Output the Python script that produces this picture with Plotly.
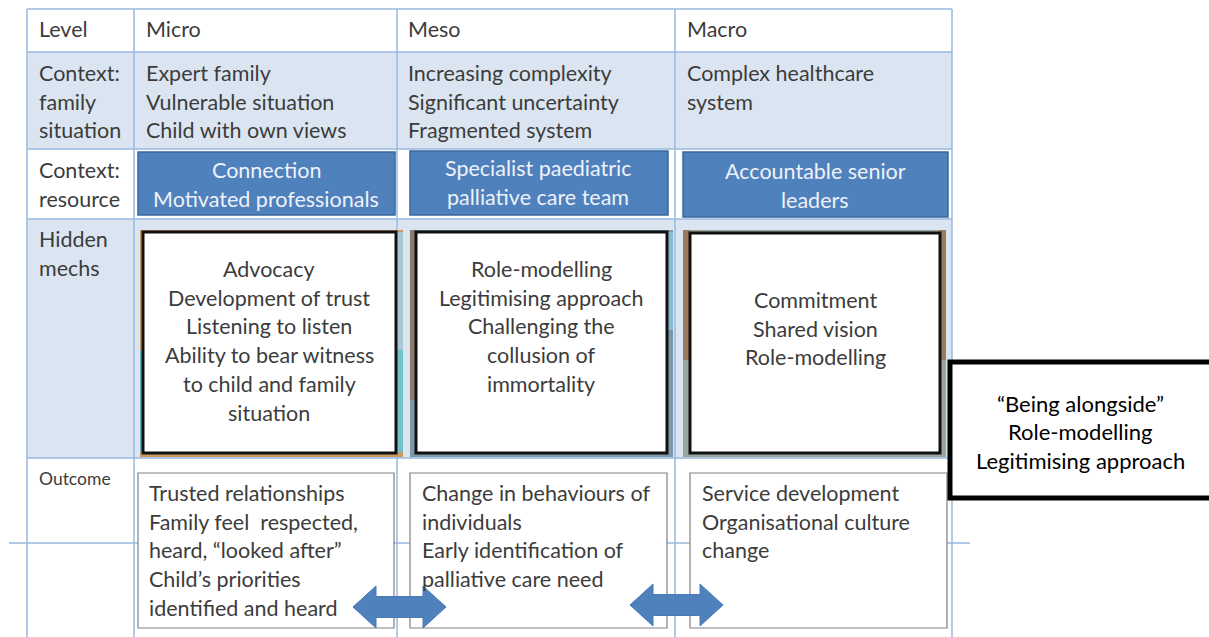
import plotly.graph_objects as go

# ---------------- text content ----------------
levels = ["Level", "Micro", "Meso", "Macro"]
row_labels_family = ["Context:", "family", "situation"]
row_labels_resource = ["Context:", "resource"]
row_labels_hidden = ["Hidden", "mechs"]
row_label_outcome = "Outcome"

family_micro = ["Expert family", "Vulnerable situation", "Child with own views"]
family_meso = ["Increasing complexity", "Significant uncertainty", "Fragmented system"]
family_macro = ["Complex healthcare", "system"]

resource_micro = ["Connection", "Motivated professionals"]
resource_meso = ["Specialist paediatric", "palliative care team"]
resource_macro = ["Accountable senior", "leaders"]

hidden_micro = ["Advocacy", "Development of trust", "Listening to listen",
                "Ability to bear witness", "to child and family", "situation"]
hidden_meso = ["Role-modelling", "Legitimising approach", "Challenging the",
               "collusion of", "immortality"]
hidden_macro = ["Commitment", "Shared vision", "Role-modelling"]

outcome_micro = ["Trusted relationships", "Family feel  respected,",
                 "heard, \u201clooked after\u201d", "Child\u2019s priorities",
                 "identified and heard"]
outcome_meso = ["Change in behaviours of", "individuals",
                "Early identification of", "palliative care need"]
outcome_macro = ["Service development", "Organisational culture", "change"]

side_box = ["\u201cBeing alongside\u201d", "Role-modelling", "Legitimising approach"]

# ---------------- layout geometry ----------------
W, H = 1209, 637
COLS = [27, 134, 397, 675, 952]
ROWS = [9, 52, 149, 219, 458, 637]
LINE_Y = 543
LH = 28.7  # line height
FONT = "Lato"
FS = 21.5
TXT = "#3c3c3c"
GRID = "#98b9e0"
LIGHT = "#dbe5f1"
BLUE = "#4f81bd"
BLUE_DK = "#3a679c"

shapes = []
ann = []


def rect(x0, y0, x1, y1, fill=None, line=None, lw=0, layer="above"):
    shapes.append(dict(type="rect", xref="x", yref="y", x0=x0, y0=y0, x1=x1, y1=y1,
                       fillcolor=fill if fill else "rgba(0,0,0,0)",
                       line=dict(color=line if line else "rgba(0,0,0,0)", width=lw),
                       layer=layer))


def hline(x0, x1, y, color=GRID, w=1.5):
    shapes.append(dict(type="line", xref="x", yref="y", x0=x0, x1=x1, y0=y, y1=y,
                       line=dict(color=color, width=w)))


def vline(x, y0, y1, color=GRID, w=1.5):
    shapes.append(dict(type="line", xref="x", yref="y", x0=x, x1=x, y0=y0, y1=y1,
                       line=dict(color=color, width=w)))


def lines(texts, x, y0, anchor="left", size=FS, color=TXT, lh=LH):
    for i, t in enumerate(texts):
        ann.append(dict(x=x, y=y0 + i * lh, xref="x", yref="y", text=t,
                        showarrow=False, xanchor=anchor, yanchor="middle",
                        font=dict(family=FONT, size=size, color=color)))


def darrow(x0, x1, cy, head=23, hh=21, sh=10.5):
    p = (f"M {x0},{cy} L {x0+head},{cy-hh} L {x0+head},{cy-sh} L {x1-head},{cy-sh} "
         f"L {x1-head},{cy-hh} L {x1},{cy} L {x1-head},{cy+hh} L {x1-head},{cy+sh} "
         f"L {x0+head},{cy+sh} L {x0+head},{cy+hh} Z")
    shapes.append(dict(type="path", xref="x", yref="y", path=p, fillcolor=BLUE,
                       line=dict(color="#4a7ab5", width=1)))


# row fills
rect(COLS[0], ROWS[1], COLS[-1], ROWS[2], fill=LIGHT)
rect(COLS[0], ROWS[3], COLS[-1], ROWS[4], fill=LIGHT)

# grid
for y in ROWS[:-1]:
    hline(COLS[0], COLS[-1], y)
hline(9, 970, LINE_Y)
for x in COLS:
    vline(x, ROWS[0], H)

# resource blue boxes
for (x0, x1, y0, y1) in [(138, 395, 152, 215), (410, 668, 151, 215), (683, 948, 152, 217)]:
    rect(x0, y0, x1, y1, fill=BLUE, line=BLUE_DK, lw=1.5)

# hidden mechanism boxes (picture-like frames with decorative edges)
# micro
rect(140, 230, 403, 457, fill="#c89a62")
rect(395, 232, 403, 350, fill="#a9c6d3")
rect(395, 350, 403, 452, fill="#6fc3c9")
rect(140, 350, 143, 452, fill="#5fb8c0")
rect(143, 232, 396, 453, fill="white", line="#111111", lw=3)
# meso
rect(410, 230, 673, 457, fill="#7d98a8")
rect(410, 230, 416, 400, fill="#8a7b6c")
rect(667, 232, 673, 330, fill="#86b9d3")
rect(416, 232, 667, 453, fill="white", line="#111111", lw=3)
# macro
rect(683, 230, 946, 457, fill="#9aa59c")
rect(683, 230, 690, 360, fill="#9c7b60")
rect(939, 230, 946, 360, fill="#9c7b60")
rect(690, 233, 940, 453, fill="white", line="#111111", lw=3)

# outcome boxes
for (x0, x1) in [(138, 394), (410, 667), (690, 947)]:
    rect(x0, 473, x1, 628, fill="white", line="#808080", lw=1.2)

# arrows
darrow(353, 446, 607)
darrow(630, 723, 605)

# side box
rect(950, 362, 1215, 498, fill="white", line="black", lw=5)

# ---------------- text ----------------
hx = [37, 144, 406, 685]
for t, x in zip(levels, hx):
    lines([t], x, 29)
lines(row_labels_family, 37, 73)
lines(family_micro, 144, 73)
lines(family_meso, 406, 73)
lines(family_macro, 685, 73)

lines(row_labels_resource, 37, 170)
lines(resource_micro, 266, 170, anchor="center", color="#eef2f8")
lines(resource_meso, 538, 168, anchor="center", color="#eef2f8")
lines(resource_macro, 815, 171, anchor="center", color="#eef2f8")

lines(row_labels_hidden, 37, 239)
lines(hidden_micro, 269, 269, anchor="center")
lines(hidden_meso, 541, 269, anchor="center")
lines(hidden_macro, 815, 300, anchor="center")

lines([row_label_outcome], 37, 478, size=17.5)
lines(outcome_micro, 147, 493)
lines(outcome_meso, 420, 493)
lines(outcome_macro, 700, 493)

lines(side_box, 1080, 403, anchor="center", color="black", size=22)

fig = go.Figure()
fig.update_layout(
    width=W, height=H, autosize=False,
    margin=dict(l=0, r=0, t=0, b=0, pad=0),
    paper_bgcolor="white", plot_bgcolor="white",
    xaxis=dict(range=[0, W], visible=False, fixedrange=True),
    yaxis=dict(range=[H, 0], visible=False, fixedrange=True),
    shapes=shapes, annotations=ann, showlegend=False,
)
fig.write_html("out.html", config={"displayModeBar": False},
               post_script="document.body.style.margin='0';document.body.style.overflow='hidden';")
